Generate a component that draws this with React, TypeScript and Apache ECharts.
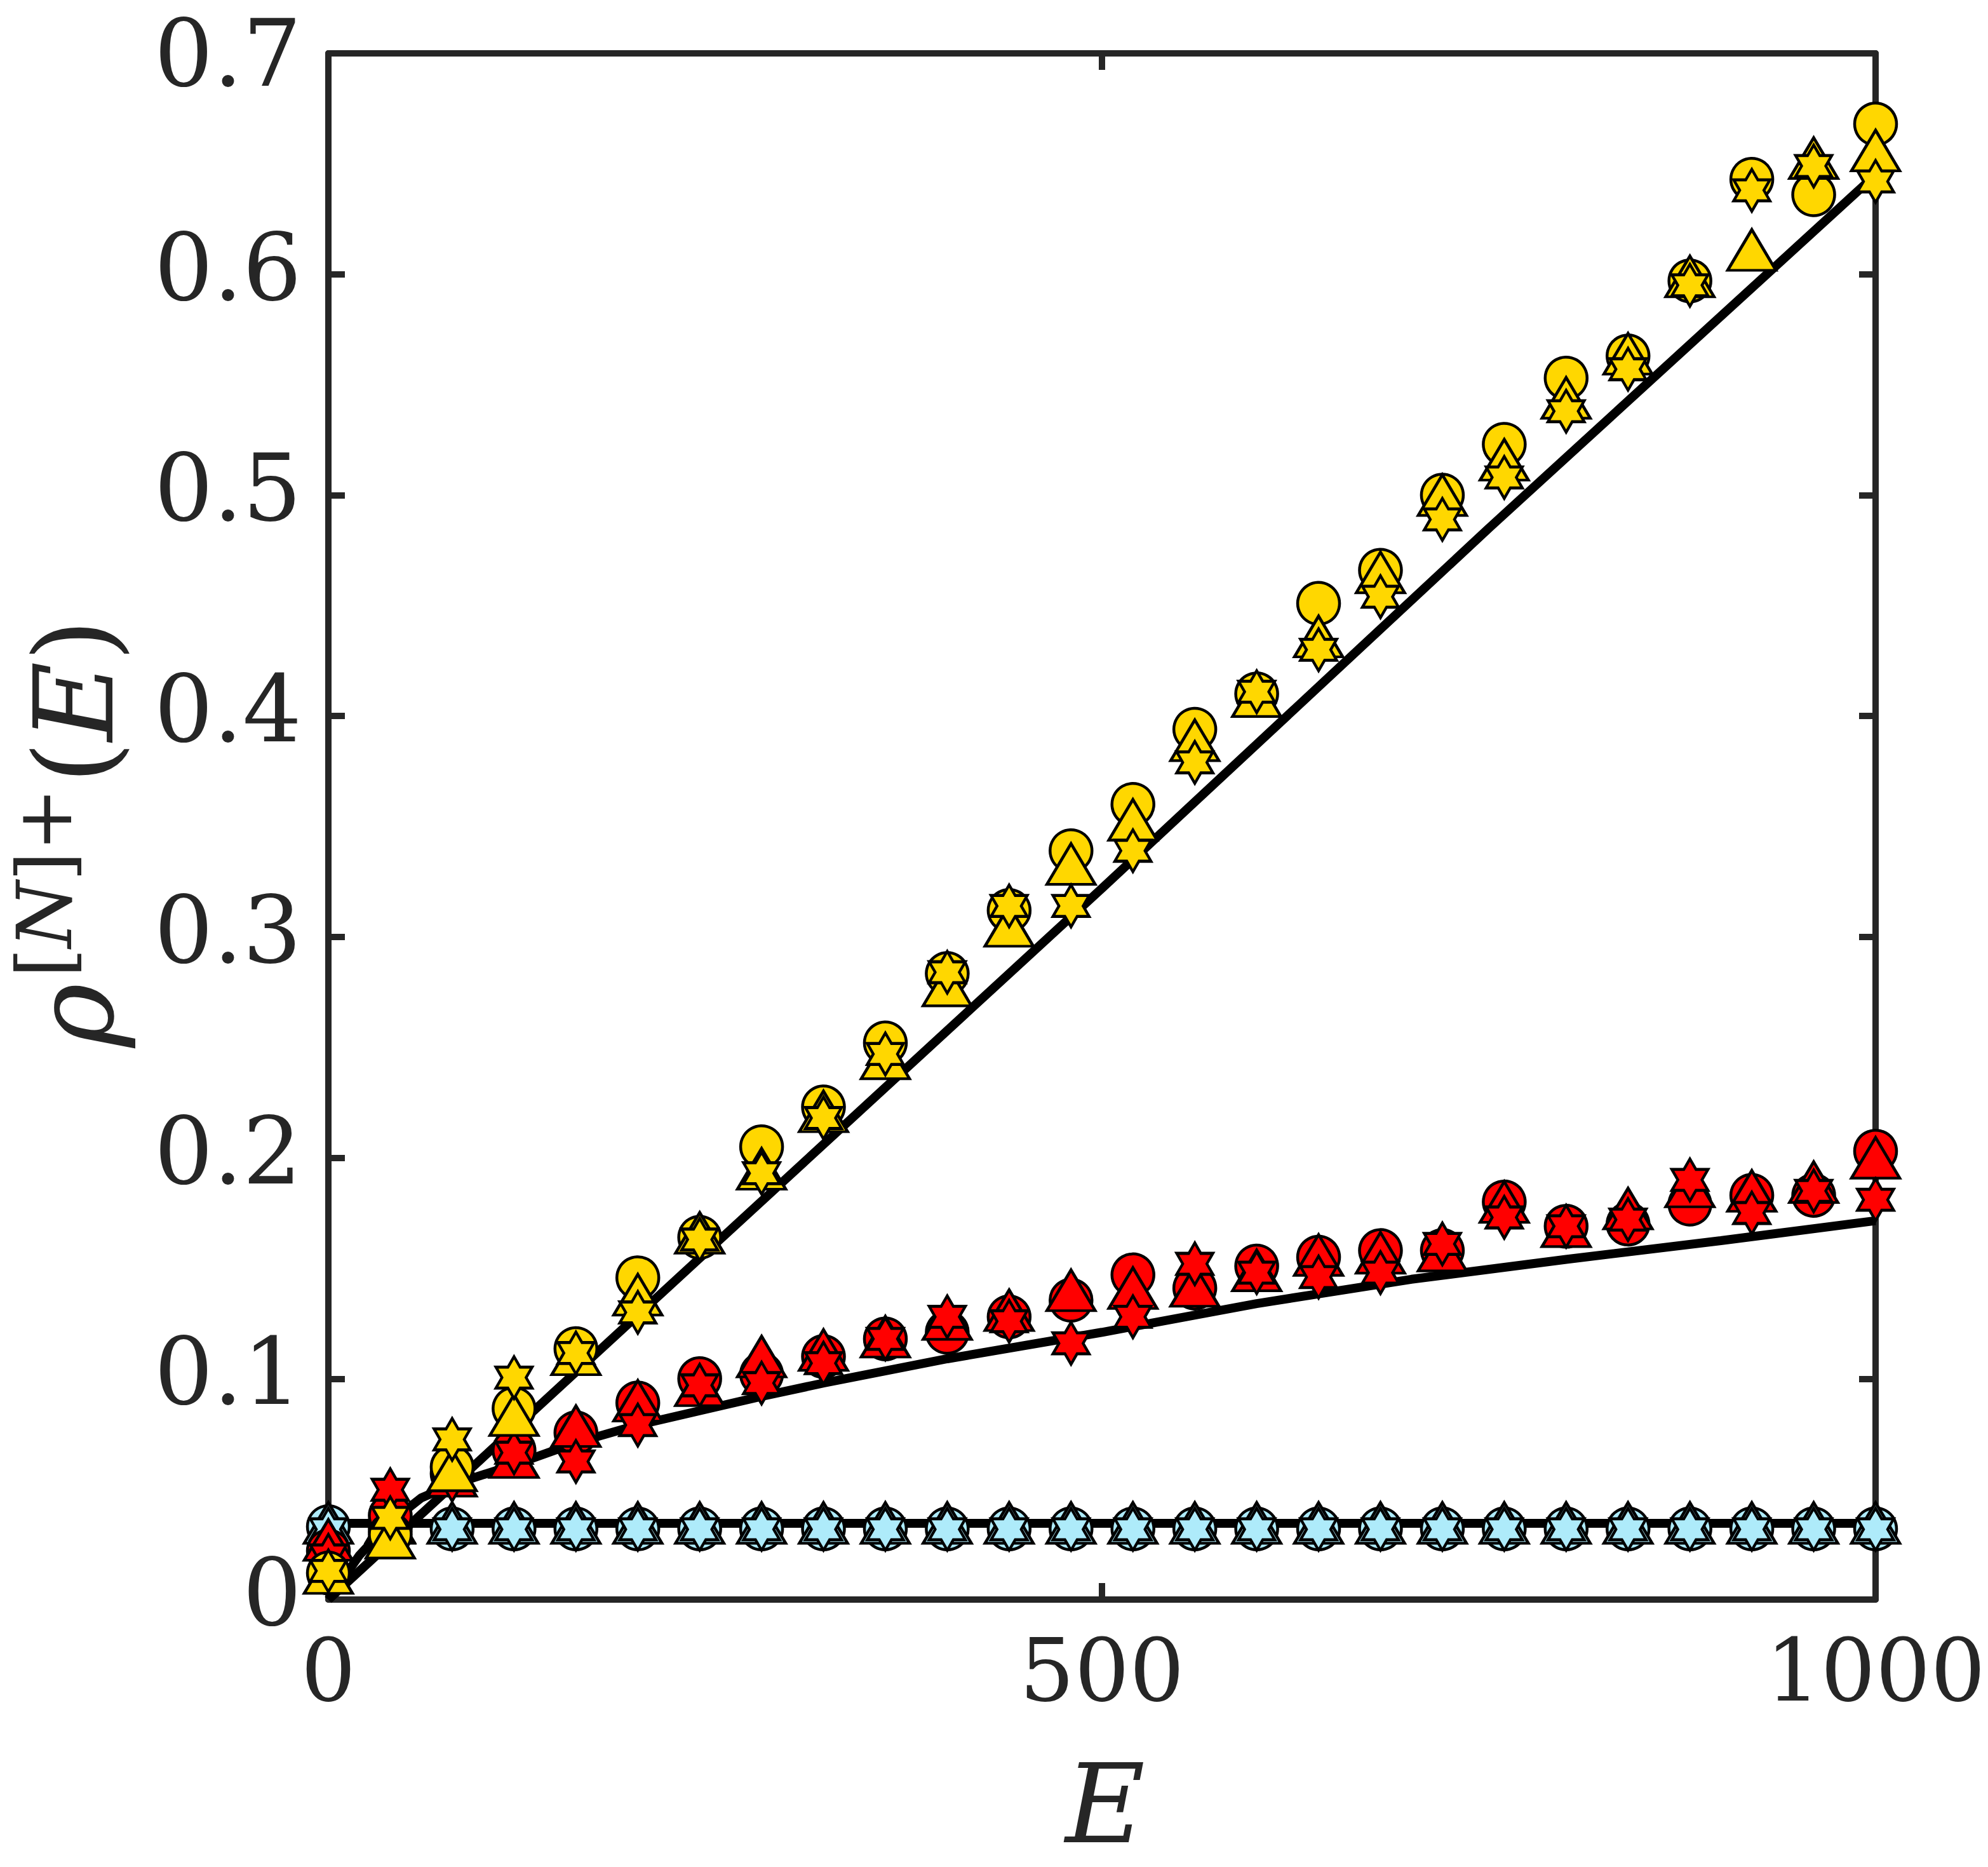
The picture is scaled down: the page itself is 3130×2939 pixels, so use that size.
import React, { useEffect, useRef } from "react";
import * as echarts from "echarts";

// ---- data ----
const energies = [0, 40, 80, 120, 160, 200, 240, 280, 320, 360, 400, 440, 480, 520, 560, 600, 640, 680, 720, 760, 800, 840, 880, 920, 960, 1000];

const yellowCircle = [0.012, 0.0295, 0.060, 0.0865, 0.1136, 0.1457, 0.164, 0.205, 0.223, 0.252, 0.2834, 0.312, 0.339, 0.360, 0.394, 0.410, 0.451, 0.466, 0.500, 0.523, 0.553, 0.563, 0.597, 0.643, 0.636, 0.668];
const yellowTriangle = [0.012, 0.028, 0.0585, 0.0835, 0.111, 0.138, 0.166, 0.195, 0.221, 0.245, 0.278, 0.305, 0.333, 0.353, 0.389, 0.409, 0.436, 0.465, 0.500, 0.516, 0.544, 0.564, 0.599, 0.611, 0.6526, 0.656];
const yellowStar = [0.013, 0.037, 0.0725, 0.1005, 0.1116, 0.130, 0.163, 0.193, 0.218, 0.247, 0.284, 0.314, 0.314, 0.339, 0.379, 0.411, 0.430, 0.454, 0.489, 0.508, 0.538, 0.557, 0.595, 0.638, 0.649, 0.642];

const redCircle = [0.022, 0.038, 0.057, 0.0675, 0.0755, 0.089, 0.100, 0.102, 0.110, 0.118, 0.121, 0.128, 0.1355, 0.147, 0.141, 0.151, 0.155, 0.158, 0.158, 0.180, 0.169, 0.170, 0.179, 0.183, 0.183, 0.203];
const redTriangle = [0.027, 0.035, 0.056, 0.0645, 0.0785, 0.090, 0.097, 0.110, 0.113, 0.119, 0.127, 0.131, 0.140, 0.141, 0.142, 0.149, 0.156, 0.157, 0.158, 0.180, 0.169, 0.177, 0.187, 0.185, 0.189, 0.200];
const redStar = [0.020, 0.0497, 0.054, 0.0665, 0.0625, 0.079, 0.097, 0.098, 0.107, 0.118, 0.128, 0.126, 0.116, 0.128, 0.152, 0.148, 0.146, 0.148, 0.161, 0.173, 0.169, 0.172, 0.190, 0.175, 0.185, 0.181];

const cyanCircle = [0.033, 0.032, 0.032, 0.032, 0.032, 0.032, 0.032, 0.032, 0.032, 0.032, 0.032, 0.032, 0.032, 0.032, 0.032, 0.032, 0.032, 0.032, 0.032, 0.032, 0.032, 0.032, 0.032, 0.032, 0.032, 0.032];
const cyanTriangle = [0.0347, 0.0347, 0.0347, 0.0347, 0.0347, 0.0347, 0.0347, 0.0347, 0.0347, 0.0347, 0.0347, 0.0347, 0.0347, 0.0347, 0.0347, 0.0347, 0.0347, 0.0347, 0.0347, 0.0347, 0.0347, 0.0347, 0.0347, 0.0347, 0.0347, 0.0347];
const cyanStar = [0.0318, 0.0318, 0.0318, 0.0318, 0.0318, 0.0318, 0.0318, 0.0318, 0.0318, 0.0318, 0.0318, 0.0318, 0.0318, 0.0318, 0.0318, 0.0318, 0.0318, 0.0318, 0.0318, 0.0318, 0.0318, 0.0318, 0.0318, 0.0318, 0.0318, 0.0318];

const yellowLineE = [0, 250, 500, 750, 1000];
const yellowLineV = [0, 0.161, 0.322, 0.485, 0.645];
const redLineE = [0, 20, 40, 60, 80, 120, 160, 200, 240, 280, 320, 400, 500, 600, 700, 800, 900, 1000];
const redLineV = [0, 0.020, 0.035, 0.046, 0.052, 0.061, 0.071, 0.079, 0.0855, 0.092, 0.098, 0.109, 0.121, 0.134, 0.145, 0.154, 0.1625, 0.1715];
const cyanLineE = [0, 1000];
const cyanLineV = [0.0345, 0.0345];

const xTicks = [0, 500, 1000];
const yTicks = [0, 0.1, 0.2, 0.3, 0.4, 0.5, 0.6, 0.7];

const YELLOW = "#FFD700";
const RED = "#FF0000";
const CYAN = "#AEEBFA";
const AXIS = "#262626";
const SERIF = '"DejaVu Serif"';

const HEXAGRAM =
  "path://M86.6,0 L57.7,50 L0,50 L28.9,100 L0,150 L57.7,150 L86.6,200 L115.5,150 L173.2,150 L144.3,100 L173.2,50 L115.5,50 Z";

function pairs(xs: number[], ys: number[]) {
  return xs.map((x, i) => [x, ys[i]]);
}

function lineSeries(xs: number[], ys: number[]) {
  return {
    type: "line",
    data: pairs(xs, ys),
    showSymbol: false,
    symbol: "none",
    lineStyle: { color: "#000", width: 14 },
    silent: true,
    z: 2,
  };
}

function scatter(vals: number[], color: string, kind: string) {
  let symbol: any = "circle";
  let size: any = 66;
  if (kind === "triangle") {
    symbol = "triangle";
    size = [76, 64];
  } else if (kind === "star") {
    symbol = HEXAGRAM;
    size = [57, 66];
  }
  return {
    type: "scatter",
    data: pairs(energies, vals),
    symbol,
    symbolSize: size,
    itemStyle: { color, borderColor: "#000", borderWidth: 4.5, opacity: 1 },
    silent: true,
    z: 3,
  };
}

export default function App() {
  const ref = useRef<HTMLDivElement>(null);
  useEffect(() => {
    if (!ref.current) return;
    const chart = echarts.init(ref.current, null, { renderer: "svg" });
    const axisCommon = {
      type: "value",
      axisLine: { show: true, onZero: false, lineStyle: { color: AXIS, width: 10 } },
      axisTick: { show: true, inside: true, length: 26, lineStyle: { color: AXIS, width: 10 } },
      splitLine: { show: false },
    };
    const option: any = {
      animation: false,
      backgroundColor: "#ffffff",
      textStyle: { fontFamily: SERIF },
      grid: {
        left: 517,
        top: 84,
        width: 2436,
        height: 2434,
        containLabel: false,
        outerBoundsMode: "none",
      },
      xAxis: [
        {
          ...axisCommon,
          position: "bottom",
          min: 0,
          max: 1000,
          interval: 500,
          axisLabel: {
            show: true,
            margin: 44,
            color: AXIS,
            fontFamily: SERIF,
            fontSize: 136,
            formatter: (v: number) => (xTicks.indexOf(v) >= 0 ? String(v) : ""),
          },
        },
        {
          ...axisCommon,
          position: "top",
          min: 0,
          max: 1000,
          interval: 500,
          axisLabel: { show: false },
        },
      ],
      yAxis: [
        {
          ...axisCommon,
          position: "left",
          min: 0,
          max: 0.7,
          interval: 0.1,
          axisLabel: {
            show: true,
            margin: 42,
            color: AXIS,
            fontFamily: SERIF,
            fontSize: 146,
            formatter: (v: number) => {
              const t = yTicks.find((k) => Math.abs(k - v) < 1e-6);
              if (t === undefined) return "";
              const s = t === 0 ? "0" : t.toFixed(1);
              return t === 0.7 ? `{top|${s}}` : `{n|${s}}`;
            },
            rich: {
              n: { fontFamily: SERIF, fontSize: 146, color: AXIS, padding: [0, 0, 22, 0] },
              top: { fontFamily: SERIF, fontSize: 146, color: AXIS, padding: [0, 0, 0, 0] },
            },
          },
        },
        {
          ...axisCommon,
          position: "right",
          min: 0,
          max: 0.7,
          interval: 0.1,
          axisLabel: { show: false },
        },
      ],
      series: [
        lineSeries(cyanLineE, cyanLineV),
        lineSeries(redLineE, redLineV),
        lineSeries(yellowLineE, yellowLineV),
        scatter(cyanCircle, CYAN, "circle"),
        scatter(cyanTriangle, CYAN, "triangle"),
        scatter(cyanStar, CYAN, "star"),
        scatter(redCircle, RED, "circle"),
        scatter(redTriangle, RED, "triangle"),
        scatter(redStar, RED, "star"),
        scatter(yellowCircle, YELLOW, "circle"),
        scatter(yellowTriangle, YELLOW, "triangle"),
        scatter(yellowStar, YELLOW, "star"),
      ],
      graphic: {
        elements: [
          {
            type: "text",
            x: 1740,
            y: 2840,
            silent: true,
            style: {
              text: "E",
              fill: AXIS,
              fontFamily: SERIF,
              fontStyle: "italic",
              fontSize: 172,
              align: "center",
              verticalAlign: "middle",
            },
          },
          {
            type: "text",
            x: 117,
            y: 1649,
            rotation: Math.PI / 2,
            silent: true,
            style: {
              text: "ρ",
              fill: AXIS,
              fontFamily: SERIF,
              fontStyle: "italic",
              fontSize: 172,
              align: "left",
              verticalAlign: "middle",
            },
          },
          {
            type: "text",
            x: 70,
            y: 1539,
            rotation: Math.PI / 2,
            silent: true,
            style: {
              text: "{a|[}{b|N}{a|]+}",
              fill: AXIS,
              fontFamily: SERIF,
              fontSize: 120,
              align: "left",
              verticalAlign: "middle",
              rich: {
                a: { fontFamily: SERIF, fontSize: 120, fill: AXIS },
                b: { fontFamily: SERIF, fontSize: 120, fontStyle: "italic", fill: AXIS },
              },
            },
          },
          {
            type: "text",
            x: 117,
            y: 1234,
            rotation: Math.PI / 2,
            silent: true,
            style: {
              text: "{a|(}{b|E}{a|)}",
              fill: AXIS,
              fontFamily: SERIF,
              fontSize: 172,
              align: "left",
              verticalAlign: "middle",
              rich: {
                a: { fontFamily: SERIF, fontSize: 172, fill: AXIS },
                b: { fontFamily: SERIF, fontSize: 172, fontStyle: "italic", fill: AXIS },
              },
            },
          },
        ],
      },
    };
    chart.setOption(option);
    return () => chart.dispose();
  }, []);
  return (
    <div
      ref={ref}
      style={{ position: "fixed", left: 0, top: 0, width: 3130, height: 2939, background: "#fff" }}
    />
  );
}
